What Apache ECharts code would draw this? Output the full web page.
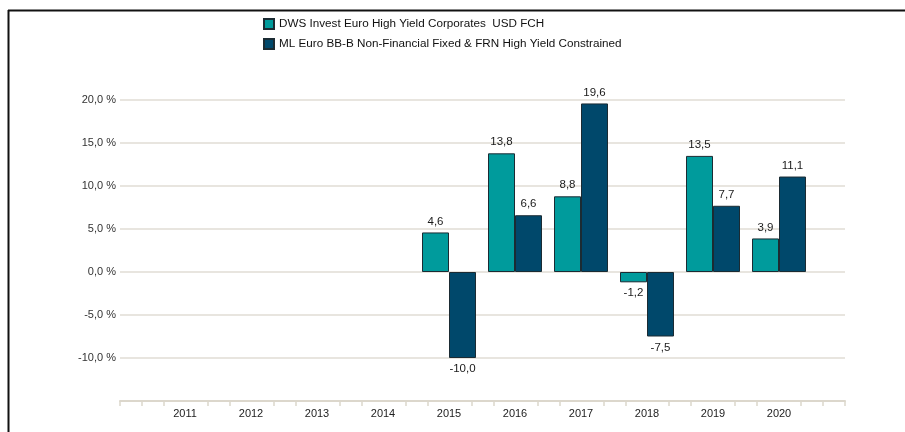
<!DOCTYPE html>
<html>
<head>
<meta charset="utf-8">
<script src="https://cdn.jsdelivr.net/npm/echarts@6/dist/echarts.min.js"></script>
<style>html,body{margin:0;padding:0;background:#fff}#c{width:905px;height:432px}</style>
</head>
<body>
<div id="c"></div>
<script>
const categories = ['2011','2012','2013','2014','2015','2016','2017','2018','2019','2020'];
const seriesNames = ['DWS Invest Euro High Yield Corporates  USD FCH', 'ML Euro BB-B Non-Financial Fixed & FRN High Yield Constrained'];
const dwsValues = [null, null, null, null, 4.6, 13.8, 8.8, -1.2, 13.5, 3.9];
const mlValues = [null, null, null, null, -10.0, 6.6, 19.6, -7.5, 7.7, 11.1];
const yTicks = [-10, -5, 0, 5, 10, 15, 20];

const fmt = v => v.toFixed(1).replace('.', ',');
const chart = echarts.init(document.getElementById('c'), null, {renderer: 'canvas'});
const FONT = 'Liberation Sans, Arial, sans-serif';
const minorTicks = [];
for (let i = 0; i <= 33; i++) { if (i % 3 !== 0 || i === 0 || i === 33) minorTicks.push(i); }

function labelCfg() {
  return {
    show: true,
    fontFamily: FONT, fontSize: 11.5, color: '#1a1a1a',
    formatter: p => fmt(p.value),
    position: 'top', distance: 5
  };
}
function mkData(arr) {
  return arr.map(v => v === null ? null : {
    value: v,
    label: { position: v < 0 ? 'bottom' : 'top' }
  });
}

chart.setOption({
  animation: false,
  textStyle: { fontFamily: FONT },
  legend: {
    orient: 'vertical', left: 258, top: 13, itemGap: 8,
    itemWidth: 10, itemHeight: 10, icon: 'rect',
    textStyle: { fontFamily: FONT, fontSize: 11.7, color: '#111' },
    data: seriesNames
  },
  grid: [
    { left: 152, right: 93, top: 100, bottom: 31 },
    { left: 120, right: 60, top: 100, bottom: 31 }
  ],
  xAxis: [
    {
      type: 'category', gridIndex: 0, data: categories,
      axisLine: { show: false }, axisTick: { show: false },
      axisLabel: { fontFamily: FONT, fontSize: 11, color: '#222', margin: 7 }
    },
    {
      type: 'value', gridIndex: 1, min: 0, max: 33, interval: 1,
      axisLine: { show: true, onZero: false, lineStyle: { color: '#dcd7cc', width: 2 } },
      axisTick: { show: true, customValues: minorTicks, length: 5, lineStyle: { color: '#dcd7cc', width: 1.5 } },
      axisLabel: { show: false }, splitLine: { show: false }
    }
  ],
  yAxis: [
    {
      type: 'value', gridIndex: 0, min: -15, max: 20, interval: 5,
      show: false, splitLine: { show: false }
    },
    {
      type: 'value', gridIndex: 1, min: -15, max: 20, interval: 5,
      axisLine: { show: false }, axisTick: { show: false },
      axisLabel: {
        fontFamily: FONT, fontSize: 11, color: '#333', margin: 4,
        formatter: v => yTicks.includes(v) ? fmt(v) + ' %' : ''
      },
      splitLine: {
        show: true,
        lineStyle: { color: '#e0dcd4', width: 1.5 }
      }
    }
  ],
  graphic: [
    { type: 'line', shape: { x1: 8, y1: 10.5, x2: 905, y2: 10.5 }, style: { stroke: '#111', lineWidth: 2 } },
    { type: 'line', shape: { x1: 8.5, y1: 10, x2: 8.5, y2: 432 }, style: { stroke: '#111', lineWidth: 2 } }
  ],
  series: [
    {
      name: seriesNames[0], type: 'bar', xAxisIndex: 0, yAxisIndex: 0,
      data: mkData(dwsValues), barWidth: 27, barGap: '0%',
      itemStyle: { color: '#009b9c', borderColor: '#1b2b33', borderWidth: 1 },
      label: labelCfg()
    },
    {
      name: seriesNames[1], type: 'bar', xAxisIndex: 0, yAxisIndex: 0,
      data: mkData(mlValues), barWidth: 27, barGap: '0%',
      itemStyle: { color: '#00486b', borderColor: '#1b2b33', borderWidth: 1 },
      label: labelCfg()
    }
  ]
});
</script>
</body>
</html>
